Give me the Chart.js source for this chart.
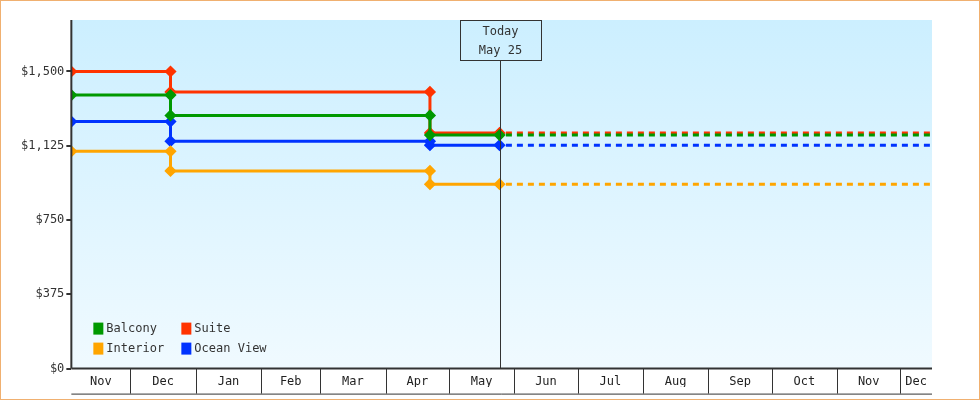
<!DOCTYPE html>
<html><head><meta charset="utf-8">
<script src="https://cdn.jsdelivr.net/npm/chart.js@4"></script>
<style>
html,body{margin:0;padding:0;background:#fff}
#wrap{position:relative;width:978px;height:398px;border:1px solid #f0b070}
</style></head><body>
<div id="wrap"><canvas id="c"></canvas></div>
<script>
// Day numbers: 0 = Nov 1
const monthNames = ['Nov','Dec','Jan','Feb','Mar','Apr','May','Jun','Jul','Aug','Sep','Oct','Nov','Dec'];
const monthStarts = [0,30,61,92,120,151,181,212,242,273,304,334,365,395];
const changeDays = [2,49,172,205]; // start, Dec 19, Apr 21, today May 25
const endDay = 410;
const todayDay = 205;
const seriesNames = ['Balcony','Suite','Interior','Ocean View'];
const seriesColors = ['#009900','#ff3300','#ffa500','#0033ff'];
const balcony = [1381,1278,1179];
const suite = [1500,1397,1190];
const interior = [1097,998,931];
const oceanView = [1247,1148,1128];
const allSeries = [balcony,suite,interior,oceanView];

function stepData(vals){
  const pts=[];
  for(let i=0;i<vals.length;i++){
    if(i>0) pts.push({x:changeDays[i],y:vals[i-1]});
    pts.push({x:changeDays[i],y:vals[i]});
  }
  pts.push({x:changeDays[3],y:vals[vals.length-1]});
  return pts;
}
const datasets=[];
allSeries.forEach((v,i)=>{
  datasets.push({label:seriesNames[i],data:stepData(v),borderColor:seriesColors[i],backgroundColor:seriesColors[i],
    borderWidth:3,pointStyle:'rectRot',pointRadius:4,pointHoverRadius:4,tension:0});
});
allSeries.forEach((v,i)=>{
  datasets.push({label:'_'+seriesNames[i],data:[{x:todayDay+3,y:v[v.length-1]},{x:endDay,y:v[v.length-1]}],borderColor:seriesColors[i],
    borderWidth:3,borderDash:[6,5],pointRadius:0,tension:0});
});
const font={family:'DejaVu Sans Mono',size:12};
const deco={id:'deco',
  beforeDraw(ch){const {ctx,chartArea:a}=ch;const g=ctx.createLinearGradient(0,a.top,0,a.bottom);
    g.addColorStop(0,'#ccefff');g.addColorStop(1,'#f0faff');ctx.fillStyle=g;ctx.fillRect(a.left,a.top,a.right-a.left,a.bottom-a.top);},
  afterDraw(ch){const {ctx,chartArea:a,scales}=ch;const xs=scales.x;
    ctx.save();ctx.strokeStyle='#333';ctx.lineWidth=1;
    monthStarts.forEach(d=>{if(d<xs.min)return;const x=Math.round(xs.getPixelForValue(d))+0.5;ctx.beginPath();ctx.moveTo(x,a.bottom);ctx.lineTo(x,a.bottom+25);ctx.stroke();});
    ctx.beginPath();ctx.moveTo(a.left,a.bottom+25.5);ctx.lineTo(a.right,a.bottom+25.5);ctx.stroke();
    ctx.lineWidth=2;ctx.beginPath();ctx.moveTo(a.left,a.bottom);ctx.lineTo(a.right,a.bottom);ctx.stroke();
    ctx.beginPath();ctx.moveTo(a.left,a.top);ctx.lineTo(a.left,a.bottom);ctx.stroke();
    const tx=Math.round(xs.getPixelForValue(todayDay))+0.5;
    ctx.lineWidth=1;ctx.beginPath();ctx.moveTo(tx,a.top+40);ctx.lineTo(tx,a.bottom);ctx.stroke();
    ctx.strokeRect(tx-40,a.top+0.5,81,40);
    ctx.fillStyle='#333';ctx.font='12px "DejaVu Sans Mono"';ctx.textAlign='center';ctx.textBaseline='middle';
    ctx.fillText('Today',tx,a.top+12);ctx.fillText('May 25',tx,a.top+31);
    ctx.textAlign='left';
    seriesNames.forEach((n,i)=>{const col=i%2,row=Math.floor(i/2);const x=a.left+22+col*88,y=a.bottom-40+row*20;
      ctx.fillStyle=seriesColors[i];ctx.fillRect(x,y-6,10,12);ctx.fillStyle='#333';ctx.fillText(n,x+13,y);});
    ctx.restore();}
};
new Chart(document.getElementById('c'),{type:'line',data:{datasets},
  options:{responsive:true,maintainAspectRatio:false,animation:false,
    layout:{padding:{top:19,right:47,bottom:12,left:18}},
    plugins:{legend:{display:false},tooltip:{enabled:false}},
    scales:{
      x:{type:'linear',min:2,max:endDay,grid:{display:false},border:{display:false},
        afterBuildTicks(s){s.ticks=monthStarts.map((d,i)=>{const e=i+1<monthStarts.length?monthStarts[i+1]:endDay;return {value:(Math.max(d,2)+Math.min(e,endDay))/2};});},
        ticks:{autoSkip:false,maxRotation:0,padding:-2,color:'#222',font,callback:(v,i)=>monthNames[i]}},
      y:{min:0,max:1760,grid:{drawOnChartArea:false,tickLength:5,color:'#333',lineWidth:2},border:{display:false},
        afterBuildTicks(s){s.ticks=[0,375,750,1125,1500].map(v=>({value:v}));},
        ticks:{color:'#333',font,padding:2,callback:v=>'$'+v.toLocaleString('en-US')}}
    }},
  plugins:[deco]});
</script></body></html>
